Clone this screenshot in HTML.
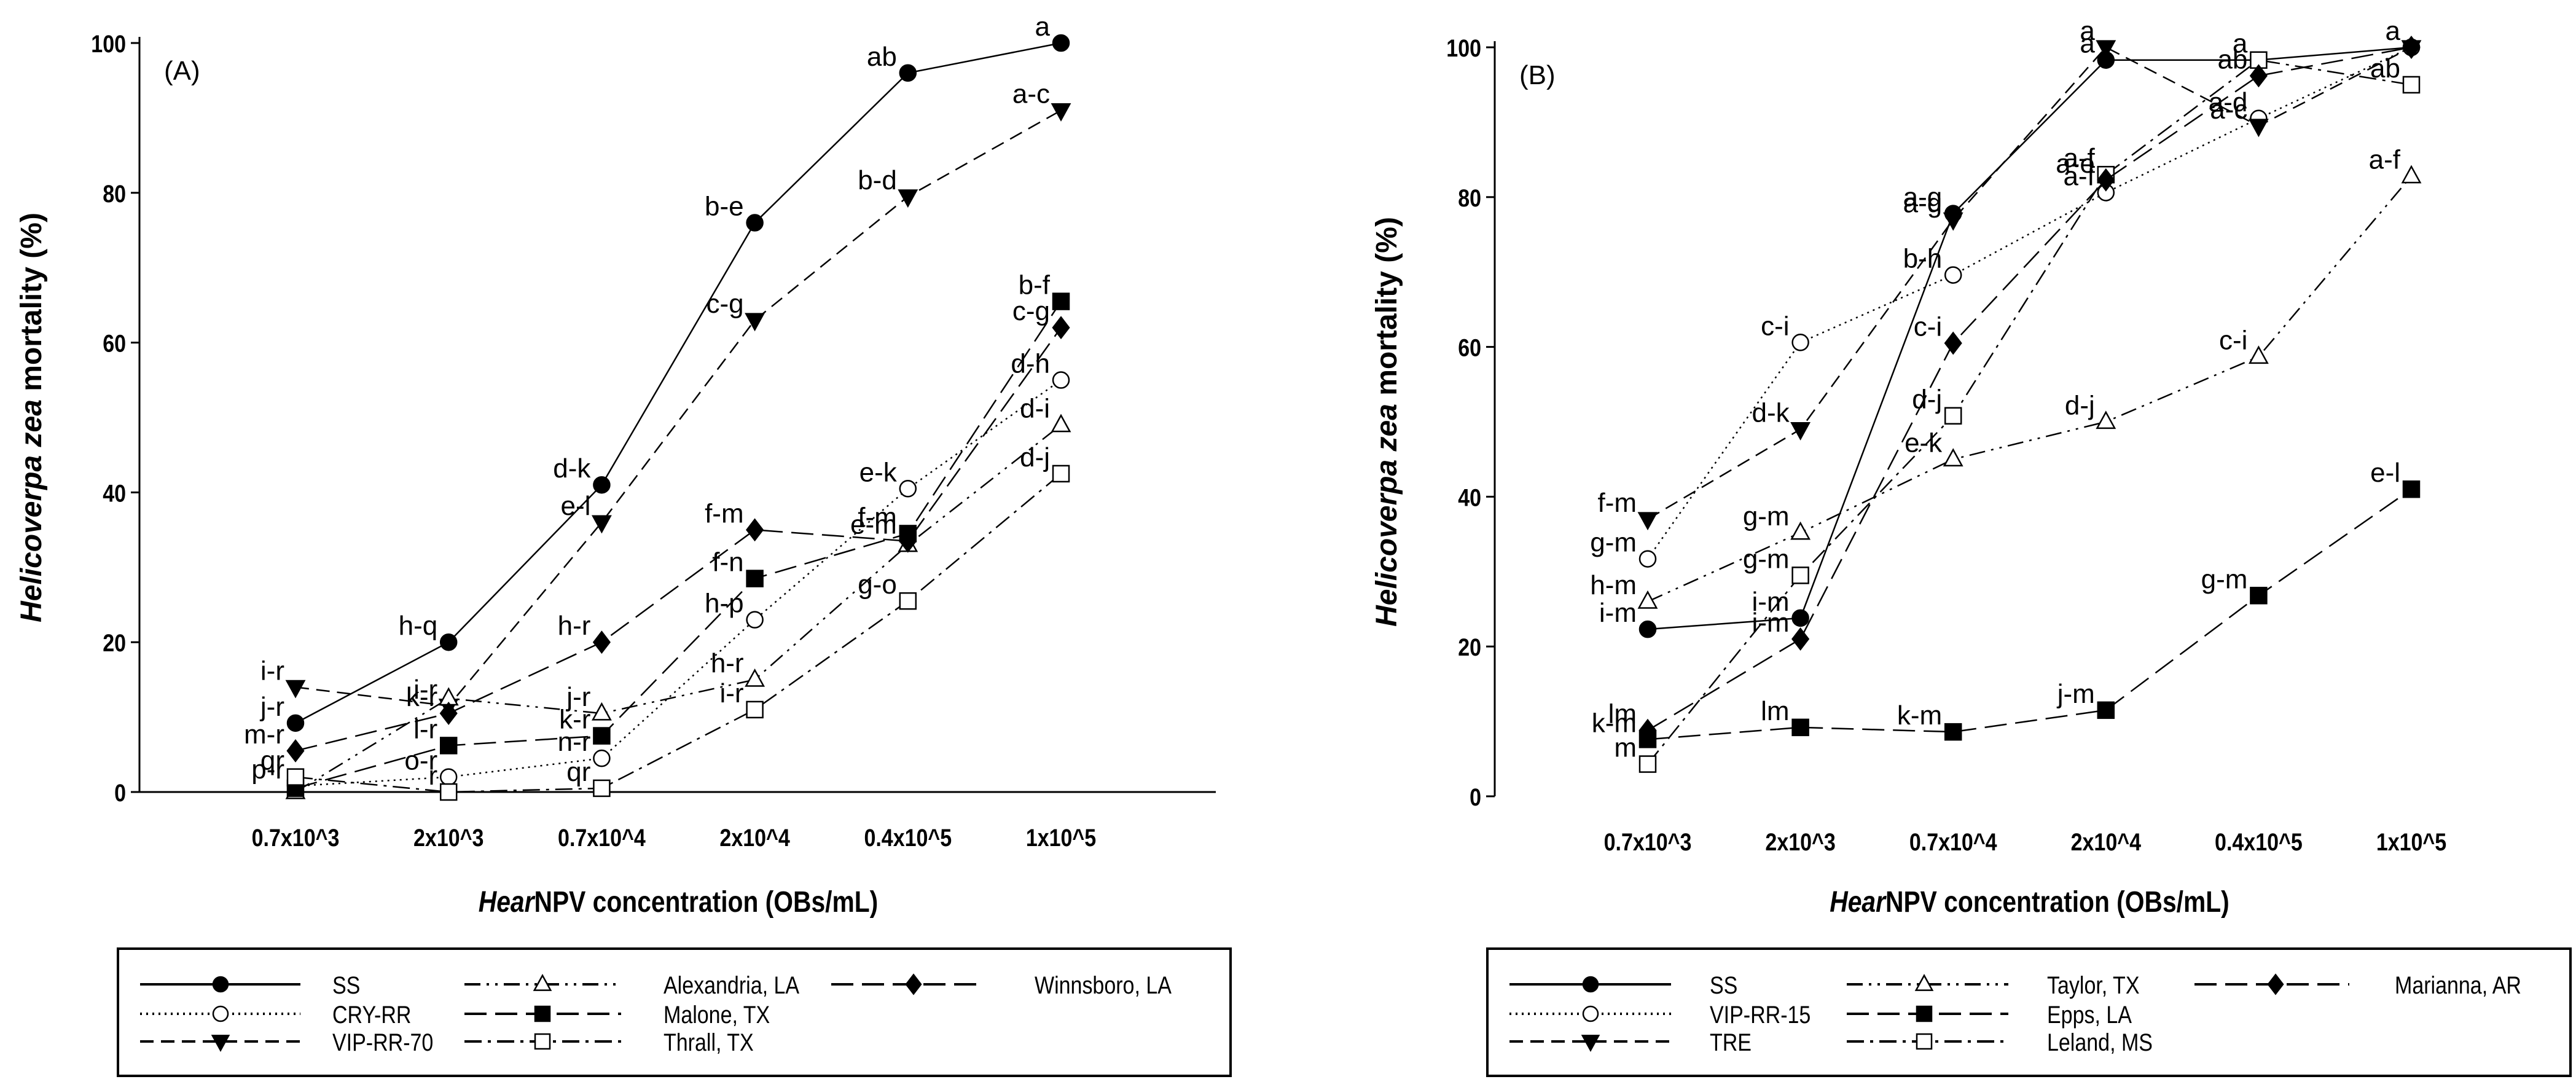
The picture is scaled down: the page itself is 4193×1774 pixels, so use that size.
<!DOCTYPE html>
<html><head><meta charset="utf-8">
<style>
html,body{margin:0;padding:0;background:#fff;}
svg{display:block;}
.tk{font-family:"Liberation Sans",sans-serif;font-weight:bold;font-size:40px;}
.lb{font-family:"Liberation Sans",sans-serif;font-size:44px;}
.lg{font-family:"Liberation Sans",sans-serif;font-size:40px;}
.ax{font-family:"Liberation Sans",sans-serif;font-weight:bold;font-size:48px;}
</style></head>
<body>
<svg id="chart" width="4193" height="1774" viewBox="0 0 4193 1774" xmlns="http://www.w3.org/2000/svg"></svg>
<script>
// ---------- data ----------
const categories = ["0.7x10^3","2x10^3","0.7x10^4","2x10^4","0.4x10^5","1x10^5"];
const yTicks = [0,20,40,60,80,100];

// Panel A series
const aSS    = [9.2,20,41,76,96,100];
const aCRY   = [0.8,2,4.5,23,40.5,55];
const aVIP70 = [14,11.5,36,63,79.5,91];
const aAlex  = [0,12.5,10.5,15,33,49];
const aMal   = [0.5,6.2,7.5,28.5,34.5,65.5];
const aThr   = [2,0,0.5,11,25.5,42.5];
const aWin   = [5.5,10.5,20,35,33.5,62];
const aSSl   = ["j-r","h-q","d-k","b-e","ab","a"];
const aCRYl  = ["p-r","o-r","n-r","h-p","e-k","d-h"];
const aVIP70l= ["i-r","i-r","e-l","c-g","b-d","a-c"];
const aAlexl = ["","","j-r","h-r","","d-i"];
const aMall  = ["","l-r","k-r","f-n","f-m","b-f"];
const aThrl  = ["qr","r","qr","i-r","g-o","d-j"];
const aWinl  = ["m-r","k-r","h-r","f-m","e-m","c-g"];

// Panel B series
const bSS    = [22.3,23.8,77.8,98.3,98.3,100];
const bVIP15 = [31.7,60.6,69.6,80.6,90.5,100];
const bTRE   = [37,49,77,100,89.5,100];
const bTay   = [26,35.2,45,50,58.7,82.8];
const bEpps  = [7.6,9.2,8.6,11.5,26.8,41];
const bLel   = [4.3,29.5,50.8,83,98.3,95];
const bMar   = [8.8,21,60.5,82.3,96.2,100];
const bSSl   = ["i-m","i-m","a-g","a","",""];
const bVIP15l= ["g-m","c-i","b-h","a-f","a-d",""];
const bTREl  = ["f-m","d-k","a-g","a","a-c","a"];
const bTayl  = ["h-m","g-m","e-k","d-j","c-i","a-f"];
const bEppsl = ["k-m","lm","k-m","j-m","g-m","e-l"];
const bLell  = ["m","g-m","d-j","a-f","a","ab"];
const bMarl  = ["lm","i-m","c-i","a-e","ab",""];

// ---------- drawing ----------
const NS="http://www.w3.org/2000/svg";
const svg=document.getElementById('chart');
function mk(tag,attrs,parent){const e=document.createElementNS(NS,tag);for(const k in attrs)e.setAttribute(k,attrs[k]);(parent||svg).appendChild(e);return e;}
function ctext(parent,x,y,anchor,cls,sx){
  const t=mk('text',{transform:`translate(${x},${y}) scale(${sx},1)`,"text-anchor":anchor,class:cls},parent);
  return t;
}

const styles={
 solid:"", dot:"3,7", dash:"22,12", dashdotdot:"26,10,4,10,4,10", longdash:"36,14", dashdot:"28,10,5,10"
};
function marker(g,type,x,y,s){
  const fill=type.open?"#fff":"#000";
  let m;
  if(type.shape==="circle") m=mk('circle',{cx:x,cy:y,r:s,fill:fill,stroke:"#000","stroke-width":2.5},g);
  else if(type.shape==="square") m=mk('rect',{x:x-s,y:y-s,width:2*s,height:2*s,fill:fill,stroke:"#000","stroke-width":2.5},g);
  else if(type.shape==="tri") m=mk('polygon',{points:`${x},${y-s*1.2} ${x-s*1.1},${y+s*0.8} ${x+s*1.1},${y+s*0.8}`,fill:fill,stroke:"#000","stroke-width":2.5},g);
  else if(type.shape==="tridown") m=mk('polygon',{points:`${x-s*1.1},${y-s*0.8} ${x+s*1.1},${y-s*0.8} ${x},${y+s*1.2}`,fill:fill,stroke:"#000","stroke-width":2.5},g);
  else if(type.shape==="diamond") m=mk('polygon',{points:`${x},${y-s*1.3} ${x+s},${y} ${x},${y+s*1.3} ${x-s},${y}`,fill:fill,stroke:"#000","stroke-width":2.5},g);
  return m;
}

function panel(cfg){
  const g=mk('g',{});
  
  
  const xS=i=>cfg.x0+i*cfg.dx;
  const yS=v=>cfg.y0-(v/100)*(cfg.y0-cfg.y100);
  const ya=mk('line',{x1:cfg.ax,y1:cfg.y100-10,x2:cfg.ax,y2:cfg.y0,stroke:"#000","stroke-width":3},g);
  
  
  if(cfg.baseline){
    const xa=mk('line',{x1:cfg.ax,y1:cfg.y0,x2:cfg.xEnd,y2:cfg.y0,stroke:"#000","stroke-width":3},g);
    
    
  }
  yTicks.forEach(t=>{
    mk('line',{x1:cfg.ax-14,y1:yS(t),x2:cfg.ax,y2:yS(t),stroke:"#000","stroke-width":3},g);
    const tl=ctext(g,cfg.ax-22,yS(t)+15,"end","tk",0.85);
    tl.textContent=t;
    
    
  });
  categories.forEach((c,i)=>{
    const tl=ctext(g,xS(i),cfg.y0+88,"middle","tk",0.85);
    tl.textContent=c;
    
    
  });
  const yt=mk('text',{transform:`translate(${cfg.ax-160},${(cfg.y0+cfg.y100)/2}) rotate(-90)`,"text-anchor":"middle",class:"ax"},g);
  yt.innerHTML='<tspan font-style="italic">Helicoverpa zea</tspan> mortality (%)';
  
  
  const xt=ctext(g,(xS(0)+xS(5))/2,1484,"middle","ax",0.85);
  xt.innerHTML='<tspan font-style="italic">Hear</tspan>NPV concentration (OBs/mL)';
  
  
  const pl=mk('text',{x:cfg.ax+40,y:cfg.y100+60,class:"lb"},g);
  pl.textContent=cfg.tag;
  
  
  cfg.series.forEach(s=>{
    const sg=mk('g',{},g);
    
    
    const pts=s.vals.map((v,i)=>`${xS(i)},${yS(v)}`).join(' ');
    const ln=mk('polyline',{points:pts,fill:"none",stroke:"#000","stroke-width":2.5,"stroke-dasharray":styles[s.dash]},sg);
    
    
    s.vals.forEach((v,i)=>{
      const m=marker(sg,s.mark,xS(i),yS(v),13);
      
      
      if(s.labels[i]){
        const t=mk('text',{x:xS(i)-18,y:yS(v)-12,"text-anchor":"end",class:"lb"},sg);
        t.textContent=s.labels[i];
        
        
      }
    });
  });
  const L=cfg.legend;
  const box=mk('rect',{x:L.x,y:1544,width:L.w,height:207,fill:"none",stroke:"#000","stroke-width":4},g);
  
  
  cfg.series.forEach(s=>{
    const c=L.cols[s.col], y=[1602,1650,1695][s.row];
    const lg=mk('g',{},g);
    
    
    mk('line',{x1:c.l1,y1:y,x2:c.l2,y2:y,stroke:"#000","stroke-width":4,"stroke-dasharray":styles[s.dash]},lg);
    marker(lg,s.mark,c.m,y,12);
    const t=ctext(lg,c.t,y+15,"start","lg",0.85);
    t.textContent=s.name;
  });
}

const M={
 ssC:{shape:"circle"}, oC:{shape:"circle",open:true}, tD:{shape:"tridown"}, oT:{shape:"tri",open:true},
 sQ:{shape:"square"}, oQ:{shape:"square",open:true}, dI:{shape:"diamond"}
};

panel({name:"panel-a",tag:"(A)",ax:227,x0:481,dx:249.2,y0:1289,y100:70,baseline:true,xEnd:1979,
 legend:{x:192,w:1811,cols:[{l1:228,l2:489,m:359,t:541},{l1:756,l2:1011,m:883,t:1080},{l1:1353,l2:1603,m:1487,t:1684}]},
 series:[
  {key:"ss",name:"SS",vals:aSS,labels:aSSl,dash:"solid",mark:M.ssC,col:0,row:0},
  {key:"cry-rr",name:"CRY-RR",vals:aCRY,labels:aCRYl,dash:"dot",mark:M.oC,col:0,row:1},
  {key:"vip-rr-70",name:"VIP-RR-70",vals:aVIP70,labels:aVIP70l,dash:"dash",mark:M.tD,col:0,row:2},
  {key:"alexandria",name:"Alexandria, LA",vals:aAlex,labels:aAlexl,dash:"dashdotdot",mark:M.oT,col:1,row:0},
  {key:"malone",name:"Malone, TX",vals:aMal,labels:aMall,dash:"longdash",mark:M.sQ,col:1,row:1},
  {key:"thrall",name:"Thrall, TX",vals:aThr,labels:aThrl,dash:"dashdot",mark:M.oQ,col:1,row:2},
  {key:"winnsboro",name:"Winnsboro, LA",vals:aWin,labels:aWinl,dash:"longdash",mark:M.dI,col:2,row:0}
 ]});

panel({name:"panel-b",tag:"(B)",ax:2433,x0:2682,dx:248.6,y0:1296,y100:77,baseline:false,
 legend:{x:2421,w:1763,cols:[{l1:2457,l2:2720,m:2589,t:2783},{l1:3006,l2:3269,m:3132,t:3332},{l1:3572,l2:3824,m:3704,t:3898}]},
 series:[
  {key:"ss",name:"SS",vals:bSS,labels:bSSl,dash:"solid",mark:M.ssC,col:0,row:0},
  {key:"vip-rr-15",name:"VIP-RR-15",vals:bVIP15,labels:bVIP15l,dash:"dot",mark:M.oC,col:0,row:1},
  {key:"tre",name:"TRE",vals:bTRE,labels:bTREl,dash:"dash",mark:M.tD,col:0,row:2},
  {key:"taylor",name:"Taylor, TX",vals:bTay,labels:bTayl,dash:"dashdotdot",mark:M.oT,col:1,row:0},
  {key:"epps",name:"Epps, LA",vals:bEpps,labels:bEppsl,dash:"longdash",mark:M.sQ,col:1,row:1},
  {key:"leland",name:"Leland, MS",vals:bLel,labels:bLell,dash:"dashdot",mark:M.oQ,col:1,row:2},
  {key:"marianna",name:"Marianna, AR",vals:bMar,labels:bMarl,dash:"longdash",mark:M.dI,col:2,row:0}
 ]});
</script>
</body></html>
